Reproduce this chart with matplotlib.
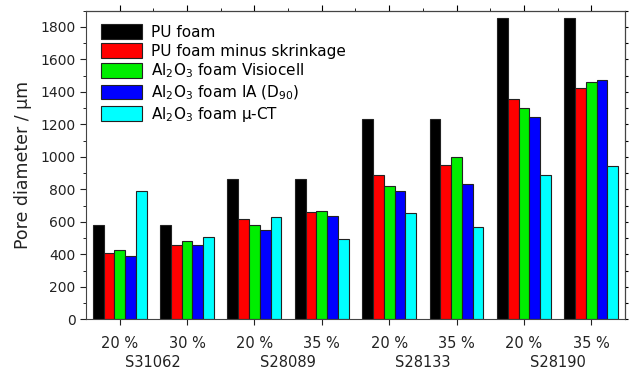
import numpy as np
import matplotlib
matplotlib.use("Agg")
from matplotlib import pyplot as plt
from matplotlib.ticker import MultipleLocator, FixedLocator

plt.rcParams['font.family'] = 'DejaVu Sans'
plt.rcParams['mathtext.default'] = 'regular'

tick_labels = ['20 %', '30 %', '20 %', '35 %', '20 %', '35 %', '20 %', '35 %']
samples = ['S31062', 'S28089', 'S28133', 'S28190']

pu_foam = [580, 580, 863, 863, 1233, 1233, 1853, 1853]
pu_shrink = [407, 456, 617, 660, 890, 951, 1354, 1426]
visiocell = [427, 481, 579, 668, 822, 1001, 1303, 1461]
ia_d90 = [390, 456, 549, 633, 793, 832, 1245, 1471]
micro_ct = [787, 507, 631, 493, 657, 571, 891, 945]

series = [pu_foam, pu_shrink, visiocell, ia_d90, micro_ct]
names = ['PU foam', 'PU foam minus skrinkage', r'Al$_2$O$_3$ foam Visiocell',
         r'Al$_2$O$_3$ foam IA (D$_{90}$)', r'Al$_2$O$_3$ foam $\mu$-CT']
colors = ['#000000', '#ff0000', '#00ee00', '#0000ff', '#00ffff']

fig = plt.figure(figsize=(6.29, 3.76), dpi=100)
ax = fig.add_axes([0.1367, 0.1508, 0.8569, 0.8207])

x = np.arange(len(tick_labels))
w = 0.16
for k, (vals, name, c) in enumerate(zip(series, names, colors)):
    ax.bar(x + (k - 2) * w, vals, width=w, color=c, edgecolor='#222222',
           linewidth=0.8, label=name)

ax.set_xlim(-0.5, 7.5)
ax.set_ylim(0, 1900)
ax.set_xticks(x)
ax.set_xticklabels(tick_labels, fontsize=10.5, color='#222222')
ax.yaxis.set_major_locator(MultipleLocator(200))
ax.yaxis.set_minor_locator(MultipleLocator(100))
ax.tick_params(axis='y', labelsize=10, colors='#222222', direction='out', length=4)
ax.tick_params(axis='y', which='minor', length=2.5, direction='out')
ax.tick_params(axis='x', direction='out', length=4, pad=8, colors='#222222')
ax.set_ylabel('Pore diameter / µm', fontsize=12.5, color='#222222', labelpad=6)

# top and right decorations
sec_x = ax.secondary_xaxis('top')
sec_x.set_xticks(x)
sec_x.set_xticklabels([])
sec_x.xaxis.set_minor_locator(FixedLocator(x[:-1] + 0.5))
sec_x.tick_params(which='major', direction='out', length=4)
sec_x.tick_params(which='minor', direction='out', length=2.5)
sec_y = ax.secondary_yaxis('right')
sec_y.set_yticks(np.arange(0, 1901, 100))
sec_y.set_yticklabels([])
sec_y.tick_params(direction='out', length=2.5)

for s in ax.spines.values():
    s.set_color('#444444')

for i, name in enumerate(samples):
    ax.text(2 * i + 0.5, -0.1416, name, transform=ax.get_xaxis_transform(),
            ha='center', va='center', fontsize=10.5, color='#222222')

ax.legend(loc='upper left', bbox_to_anchor=(0.008, 0.99), frameon=False,
          fontsize=11, handlelength=2.7, handleheight=1.1, labelspacing=0.2,
          handletextpad=0.6, borderaxespad=0.3)

fig.savefig('out.png', dpi=100)
